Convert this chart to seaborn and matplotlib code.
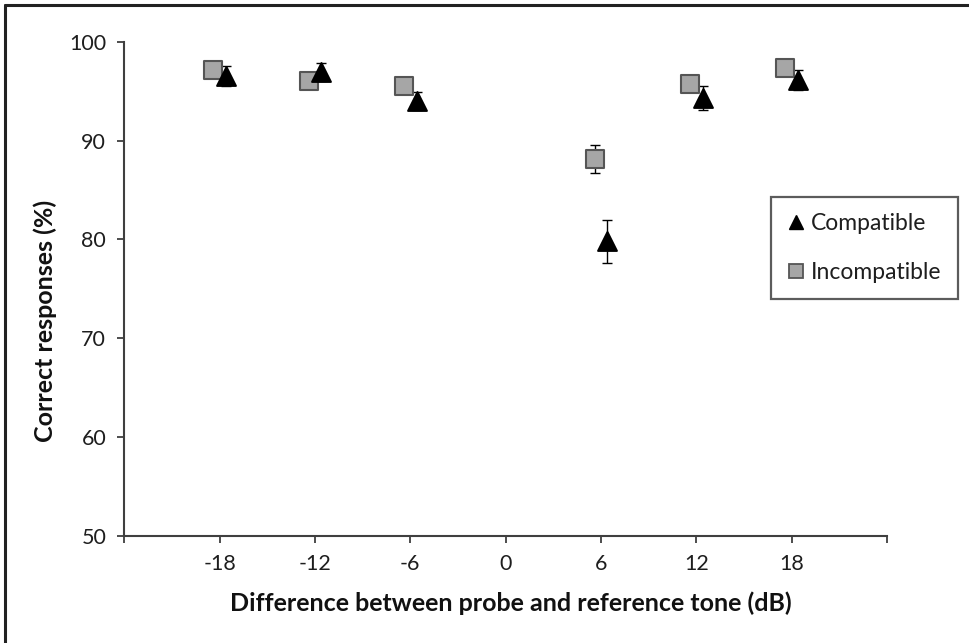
import numpy as np
import pandas as pd
import matplotlib
matplotlib.use("Agg")
import matplotlib.pyplot as plt
from matplotlib.lines import Line2D
import seaborn as sns

# ---- data ----
levels = [-18, -12, -6, 6, 12, 18]
compatible_mean = [96.5, 96.9, 94.0, 79.8, 94.3, 96.1]
compatible_err = [1.0, 0.9, 0.9, 2.2, 1.2, 1.0]
incompatible_mean = [97.1, 96.0, 95.5, 88.1, 95.7, 97.3]
incompatible_err = [0.6, 0.6, 0.6, 1.4, 0.6, 0.6]
series_names = ["Compatible", "Incompatible"]
x_ticks = [-24, -18, -12, -6, 0, 6, 12, 18, 24]
x_ticklabels = ["", "-18", "-12", "-6", "0", "6", "12", "18", ""]
y_ticks = [50, 60, 70, 80, 90, 100]

df = pd.DataFrame({
    "level": levels * 2,
    "mean": compatible_mean + incompatible_mean,
    "err": compatible_err + incompatible_err,
    "cond": [series_names[0]] * len(levels) + [series_names[1]] * len(levels),
})

sns.set_theme(style="white")
plt.rcParams["font.family"] = ["Lato", "DejaVu Sans"]

fig = plt.figure(figsize=(9.7, 6.43), dpi=100)
ax = fig.add_axes([0.1281, 0.1669, 0.9144 - 0.1281, 0.9351 - 0.1669])

offset = {"Compatible": 0.4, "Incompatible": -0.4}
df["xpos"] = df["level"] + df["cond"].map(offset)

axis_col = "#3f3f3f"
# draw incompatible first, compatible on top
for cond, marker, fc, ec, ms in [("Incompatible", "s", "#a6a6a6", "#555555", 13),
                                  ("Compatible", "^", "black", "black", 13.5)]:
    sub = df[df["cond"] == cond]
    ax.errorbar(sub["xpos"], sub["mean"], yerr=sub["err"], fmt="none",
                ecolor="black", elinewidth=1.0, capsize=3.5, capthick=1.0, zorder=2)
    sns.scatterplot(data=sub, x="xpos", y="mean", marker=marker, s=ms ** 2,
                    color=fc, edgecolor=ec, linewidth=1.5, ax=ax, zorder=3,
                    legend=False)

ax.set_xlim(-24, 24)
ax.set_ylim(50, 100)
ax.set_xticks(x_ticks)
ax.set_xticklabels(x_ticklabels)
ax.set_yticks(y_ticks)

for s in ["top", "right"]:
    ax.spines[s].set_visible(False)
for s in ["left", "bottom"]:
    ax.spines[s].set_color(axis_col)
    ax.spines[s].set_linewidth(1.5)

ax.tick_params(axis="both", which="major", direction="out", length=5, width=1.3,
               color=axis_col, labelsize=15.5, labelcolor="#1e1e1e")
ax.tick_params(axis="y", pad=8)
ax.tick_params(axis="x", pad=8)
ax.tick_params(left=True, bottom=True)

ax.set_xlabel("Difference between probe and reference tone (dB)",
              fontsize=18, fontweight="bold", color="#111111")
ax.set_ylabel("Correct responses (%)", fontsize=18, fontweight="bold",
              color="#111111")
ax.xaxis.set_label_coords(0.507, -0.136)
ax.yaxis.set_label_coords(-0.103, 0.435)
ax.xaxis.label.set_va("center")
ax.yaxis.label.set_va("center")

handles = [
    Line2D([], [], marker="^", linestyle="none", markersize=10.5,
           markerfacecolor="black", markeredgecolor="black", label=series_names[0]),
    Line2D([], [], marker="s", linestyle="none", markersize=9.5,
           markerfacecolor="#a6a6a6", markeredgecolor="#555555", markeredgewidth=1.3,
           label=series_names[1]),
]
leg = ax.legend(handles=handles, loc="upper left",
                bbox_to_anchor=(771 / 970, 1 - 197 / 643),
                bbox_transform=fig.transFigure, borderaxespad=0,
                frameon=True, fancybox=False, fontsize=16.5, labelspacing=1.2,
                handlelength=0.75, handletextpad=0.3, borderpad=0.7)
leg.get_frame().set_edgecolor("#333333")
leg.get_frame().set_linewidth(1.6)
for t in leg.get_texts():
    t.set_color("#1e1e1e")

# figure border (top and left)
fig.add_artist(Line2D([5 / 970, 5 / 970], [0, 1 - 5 / 643], transform=fig.transFigure,
                      color="#222222", linewidth=2.2))
fig.add_artist(Line2D([5 / 970, 1], [1 - 5 / 643, 1 - 5 / 643], transform=fig.transFigure,
                      color="#222222", linewidth=2.2))

fig.savefig("out.png", dpi=100, facecolor="white")
